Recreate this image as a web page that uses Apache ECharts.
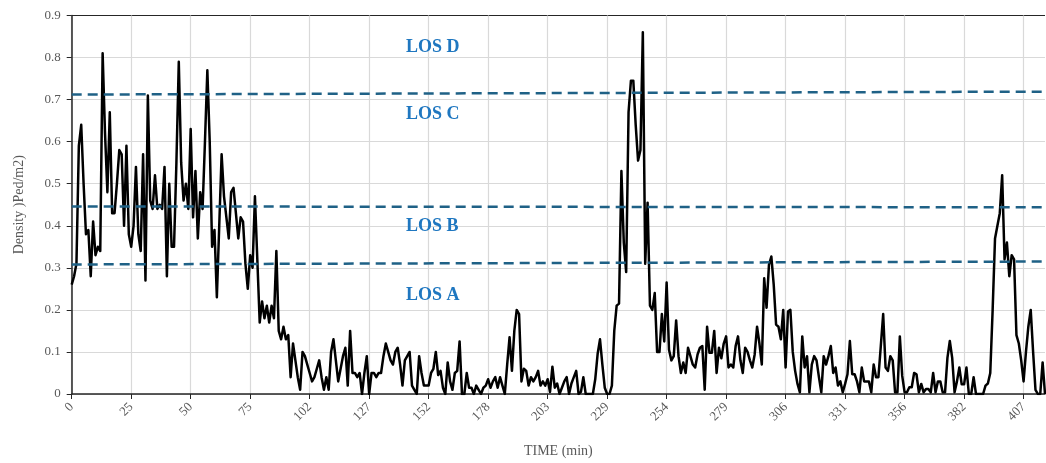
<!DOCTYPE html>
<html>
<head>
<meta charset="utf-8">
<script src="https://cdn.jsdelivr.net/npm/echarts@6/dist/echarts.min.js"></script>
<style>
  html, body { margin: 0; padding: 0; background: #fff; }
  #container { width: 1046px; height: 463px; }
</style>
</head>
<body>
<div id="container"></div>
<script>
// tick labels shown every 25 samples
const tickLabels = ['0', '25', '50', '75', '102', '127', '152', '178', '203', '229', '254', '279', '306', '331', '356', '382', '407'];
const labelStep = 25;

// density (Ped/m2) per sample
const density = [
    0.26,0.28,0.31,0.59,0.64,0.50,0.38,0.39,0.28,0.41,0.33,0.35,0.34,0.81,0.62,0.48,0.67,0.43,0.43,0.50,0.58,0.57,0.40,0.59,0.38,
    0.35,0.40,0.54,0.38,0.34,0.57,0.27,0.71,0.46,0.44,0.52,0.44,0.45,0.44,0.54,0.28,0.50,0.35,0.35,0.55,0.79,0.55,0.46,0.50,0.44,
    0.63,0.42,0.53,0.37,0.48,0.44,0.60,0.77,0.60,0.35,0.39,0.23,0.40,0.57,0.47,0.42,0.37,0.48,0.49,0.43,0.37,0.42,0.41,0.31,0.25,
    0.33,0.30,0.47,0.32,0.17,0.22,0.18,0.21,0.17,0.21,0.18,0.34,0.15,0.13,0.16,0.13,0.14,0.04,0.12,0.08,0.04,0.01,0.10,0.09,0.07,
    0.05,0.03,0.04,0.06,0.08,0.04,0.01,0.04,0.01,0.10,0.13,0.08,0.03,0.06,0.09,0.11,0.02,0.15,0.05,0.05,0.04,0.05,0.00,0.05,0.09,
    0.00,0.05,0.05,0.04,0.05,0.05,0.09,0.12,0.10,0.08,0.07,0.10,0.11,0.07,0.02,0.08,0.09,0.10,0.02,0.01,0.00,0.09,0.05,0.02,0.02,
    0.02,0.05,0.06,0.10,0.045,0.055,0.015,0.00,0.075,0.03,0.01,0.05,0.055,0.125,0.00,0.00,0.05,0.015,0.015,0.00,0.02,0.01,0.00,0.015,0.02,
    0.035,0.015,0.03,0.04,0.015,0.04,0.02,0.00,0.07,0.135,0.055,0.15,0.20,0.19,0.03,0.06,0.055,0.02,0.04,0.03,0.04,0.055,0.02,0.03,0.02,
    0.035,0.005,0.065,0.015,0.025,0.00,0.015,0.03,0.04,0.00,0.025,0.04,0.055,0.00,0.005,0.04,0.00,0.00,0.00,0.00,0.035,0.095,0.13,0.07,0.015,
    0.00,0.00,0.02,0.15,0.21,0.215,0.53,0.36,0.29,0.67,0.745,0.745,0.64,0.555,0.58,0.86,0.31,0.455,0.21,0.20,0.24,0.10,0.10,0.19,0.125,
    0.265,0.105,0.08,0.09,0.175,0.09,0.05,0.075,0.05,0.11,0.09,0.07,0.063,0.094,0.11,0.114,0.01,0.16,0.098,0.098,0.15,0.05,0.11,0.085,0.12,
    0.137,0.063,0.07,0.063,0.114,0.137,0.08,0.05,0.11,0.10,0.08,0.063,0.094,0.16,0.12,0.07,0.275,0.205,0.307,0.327,0.26,0.165,0.16,0.13,0.20,
    0.063,0.196,0.20,0.10,0.055,0.024,0.004,0.137,0.063,0.09,0.004,0.07,0.09,0.08,0.04,0.004,0.09,0.07,0.09,0.114,0.05,0.063,0.02,0.03,0.004,
    0.024,0.047,0.126,0.047,0.047,0.03,0.004,0.063,0.03,0.03,0.03,0.004,0.07,0.04,0.04,0.114,0.19,0.063,0.055,0.09,0.08,0.004,0.004,0.137,0.043,
    0.004,0.004,0.016,0.016,0.05,0.047,0.004,0.024,0.004,0.012,0.012,0.004,0.05,0.004,0.03,0.03,0.004,0.004,0.086,0.126,0.086,0.004,0.03,0.063,0.023,
    0.023,0.063,0,0,0.04,0,0,0,0,0.02,0.025,0.05,0.20,0.37,0.40,0.43,0.52,0.32,0.36,0.28,0.33,0.32,0.14,0.12,0.08,
    0.03,0.10,0.16,0.20,0.10,0.01,0,0,0.075,0
];

// level-of-service boundaries [start, end]
const losAB = [0.308, 0.315];
const losBC = [0.446, 0.444];
const losCD = [0.712, 0.719];
const losNames = ['LOS D', 'LOS C', 'LOS B', 'LOS A'];

const categories = density.map((d, i) => String(i));
const lastCat = categories[categories.length - 1];

const serif = 'Liberation Serif';

function boundary(pair) {
    return [{ coord: [categories[0], pair[0]] }, { coord: [lastCat, pair[1]] }];
}

const dom = document.getElementById('container');
const chart = echarts.init(dom);

const losText = (name, top) => ({
    type: 'text', left: 406, top: top, z: 10,
    style: { text: name, fill: '#1F77C0', font: 'bold 18px "Liberation Serif"' }
});

chart.setOption({
    animation: false,
    grid: { left: 71.7, right: 1, top: 15.5, bottom: 66.5 },
    xAxis: {
        type: 'category',
        data: categories,
        boundaryGap: false,
        name: 'TIME (min)',
        nameLocation: 'middle',
        nameGap: 50,
        nameTextStyle: { fontFamily: serif, fontSize: 14, color: '#595959' },
        axisLine: { lineStyle: { color: '#262626', width: 1.5 } },
        axisTick: { show: true, interval: labelStep - 1, length: 5, lineStyle: { color: '#262626' } },
        axisLabel: {
            interval: labelStep - 1,
            rotate: 45,
            margin: 11,
            fontFamily: serif,
            fontSize: 13,
            color: '#595959',
            formatter: function (val, idx) { return tickLabels[Math.round(idx / labelStep)]; }
        },
        splitLine: { show: true, interval: labelStep - 1, lineStyle: { color: '#d9d9d9', width: 1.2 } }
    },
    yAxis: {
        type: 'value',
        min: 0,
        max: 0.9,
        interval: 0.1,
        name: 'Density )Ped/m2)',
        nameLocation: 'middle',
        nameGap: 45,
        nameTextStyle: { fontFamily: serif, fontSize: 14, color: '#595959' },
        axisLine: { show: true, lineStyle: { color: '#262626', width: 1.5 } },
        axisTick: { show: true, length: 5, lineStyle: { color: '#262626' } },
        axisLabel: {
            margin: 11,
            fontFamily: serif,
            fontSize: 13,
            color: '#595959',
            formatter: function (v) { return v === 0 ? '0' : v.toFixed(1); }
        },
        splitLine: {
            lineStyle: {
                color: ['#d9d9d9', '#d9d9d9', '#d9d9d9', '#d9d9d9', '#d9d9d9', '#d9d9d9', '#d9d9d9', '#d9d9d9', '#d9d9d9', '#262626'],
                width: 1.2
            }
        }
    },
    graphic: [
        losText(losNames[0], 38),
        losText(losNames[1], 105),
        losText(losNames[2], 217),
        losText(losNames[3], 286)
    ],
    series: [{
        type: 'line',
        data: density,
        showSymbol: false,
        symbol: 'none',
        lineStyle: { color: '#000', width: 2.5, join: 'round' },
        z: 3,
        markLine: {
            silent: true,
            symbol: ['none', 'none'],
            label: { show: false },
            lineStyle: { color: '#1F6186', width: 2.5, type: [10, 6] },
            data: [boundary(losAB), boundary(losBC), boundary(losCD)]
        }
    }]
});
</script>
</body>
</html>
